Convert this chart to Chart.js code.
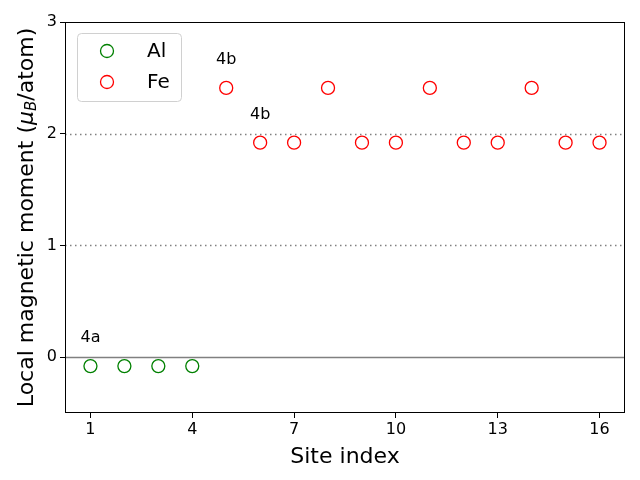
<!DOCTYPE html>
<html>
<head>
<meta charset="utf-8">
<script src="https://cdn.jsdelivr.net/npm/chart.js@4"></script>
<style>
    html, body { margin: 0; padding: 0; background: #fff; }
    canvas { display: block; }
</style>
</head>
<body>
<canvas id="momentChart" width="640" height="480"></canvas>
<script>
// ========== DATA ==========
const alSites = [1, 2, 3, 4];
const alMoments = [-0.08, -0.08, -0.08, -0.08];
const feSites = [5, 6, 7, 8, 9, 10, 11, 12, 13, 14, 15, 16];
const feMoments = [2.41, 1.92, 1.92, 2.41, 1.92, 1.92, 2.41, 1.92, 1.92, 2.41, 1.92, 1.92];
const xTicks = [1, 4, 7, 10, 13, 16];
const yTicks = [0, 1, 2, 3];
const dottedLevels = [1, 2];
const labelTexts = ['4a', '4b', '4b'];
const labelX = [1, 5, 6];
const labelY = [0.17, 2.66, 2.17];

const FONT = "'DejaVu Sans', sans-serif";

function toPoints(xs, ys) {
    return xs.map((x, i) => ({ x: x, y: ys[i] }));
}

// reference lines, frame, annotations, legend, y title
const decorPlugin = {
    id: 'decor',
    beforeDatasetsDraw(chart) {
        const { ctx, chartArea: a, scales } = chart;
        ctx.save();
        ctx.strokeStyle = '#808080';
        ctx.lineWidth = 1.5;
        ctx.setLineDash([1.5, 3.5]);
        dottedLevels.forEach(v => {
            const y = Math.round(scales.y.getPixelForValue(v)) + 0.5;
            ctx.beginPath();
            ctx.moveTo(a.left, y);
            ctx.lineTo(a.right, y);
            ctx.stroke();
        });
        ctx.setLineDash([]);
        const y0 = Math.round(scales.y.getPixelForValue(0)) + 0.5;
        ctx.beginPath();
        ctx.moveTo(a.left, y0);
        ctx.lineTo(a.right, y0);
        ctx.stroke();
        ctx.restore();
    },
    afterDraw(chart) {
        const { ctx, chartArea: a, scales } = chart;
        ctx.save();
        // frame
        ctx.strokeStyle = '#000';
        ctx.lineWidth = 1;
        ctx.strokeRect(a.left + 0.5, a.top + 0.5, a.right - a.left - 1, a.bottom - a.top - 1);

        // annotations
        ctx.fillStyle = '#000';
        ctx.font = '16px ' + FONT;
        ctx.textAlign = 'center';
        ctx.textBaseline = 'middle';
        labelTexts.forEach((t, i) => {
            ctx.fillText(t, scales.x.getPixelForValue(labelX[i]), scales.y.getPixelForValue(labelY[i]));
        });

        // legend
        const lx = a.left + 12, ly = a.top + 11, lw = 104, lh = 68;
        ctx.fillStyle = 'rgba(255,255,255,0.8)';
        ctx.strokeStyle = '#d0d0d0';
        ctx.beginPath();
        ctx.roundRect(lx + 0.5, ly + 0.5, lw, lh, 4);
        ctx.fill();
        ctx.stroke();
        chart.data.datasets.forEach((ds, i) => {
            const cy = ly + 18 + i * 31;
            ctx.beginPath();
            ctx.arc(lx + 30, cy, 6.5, 0, Math.PI * 2);
            ctx.strokeStyle = ds.borderColor;
            ctx.lineWidth = 1.3;
            ctx.stroke();
            ctx.fillStyle = '#000';
            ctx.font = '20px ' + FONT;
            ctx.textAlign = 'left';
            ctx.fillText(ds.label, lx + 70, cy + 1);
        });

        // y title with subscript
        const cx = 27, cyMid = (a.top + a.bottom) / 2;
        ctx.translate(cx, cyMid);
        ctx.rotate(-Math.PI / 2);
        ctx.textBaseline = 'middle';
        ctx.textAlign = 'left';
        const parts = [
            { t: 'Local magnetic moment (', f: '22px ' + FONT, dy: 0 },
            { t: 'μ', f: 'italic 22px ' + FONT, dy: 0 },
            { t: 'B', f: 'italic 15px ' + FONT, dy: 5 },
            { t: '/atom)', f: '22px ' + FONT, dy: 0 }
        ];
        let total = 0;
        parts.forEach(p => { ctx.font = p.f; p.w = ctx.measureText(p.t).width; total += p.w; });
        let px = -total / 2;
        ctx.fillStyle = '#000';
        parts.forEach(p => {
            ctx.font = p.f;
            ctx.fillText(p.t, px, p.dy);
            px += p.w;
        });
        ctx.restore();
    }
};

const ctx = document.getElementById('momentChart').getContext('2d');
new Chart(ctx, {
    type: 'scatter',
    data: {
        datasets: [
            {
                label: 'Al',
                data: toPoints(alSites, alMoments),
                borderColor: 'green',
                backgroundColor: 'rgba(0,0,0,0)',
                pointRadius: 6.5,
                pointBorderWidth: 1.3,
                pointHoverRadius: 6.5
            },
            {
                label: 'Fe',
                data: toPoints(feSites, feMoments),
                borderColor: 'red',
                backgroundColor: 'rgba(0,0,0,0)',
                pointRadius: 6.5,
                pointBorderWidth: 1.3,
                pointHoverRadius: 6.5
            }
        ]
    },
    options: {
        responsive: false,
        animation: false,
        devicePixelRatio: 1,
        layout: { padding: { top: 22, right: 15, left: 0, bottom: 0 } },
        plugins: {
            legend: { display: false },
            tooltip: { enabled: false }
        },
        scales: {
            x: {
                type: 'linear',
                min: 0.25,
                max: 16.75,
                afterBuildTicks: (scale) => { scale.ticks = xTicks.map(v => ({ value: v })); },
                afterFit: (scale) => { scale.height = 67; },
                grid: { drawOnChartArea: false, drawTicks: true, tickLength: 5, tickColor: '#000' },
                border: { display: false },
                ticks: { color: '#000', font: { family: FONT, size: 16 }, padding: 2, maxRotation: 0 },
                title: { display: true, text: 'Site index', color: '#000', font: { family: FONT, size: 22 }, padding: { top: 2, bottom: 10 } }
            },
            y: {
                type: 'linear',
                min: -0.5,
                max: 3,
                afterBuildTicks: (scale) => { scale.ticks = yTicks.map(v => ({ value: v })); },
                afterFit: (scale) => { scale.width = 65; },
                grid: { drawOnChartArea: false, drawTicks: true, tickLength: 5, tickColor: '#000' },
                border: { display: false },
                ticks: { color: '#000', font: { family: FONT, size: 16 }, padding: 3 }
            }
        }
    },
    plugins: [decorPlugin]
});
</script>
</body>
</html>
